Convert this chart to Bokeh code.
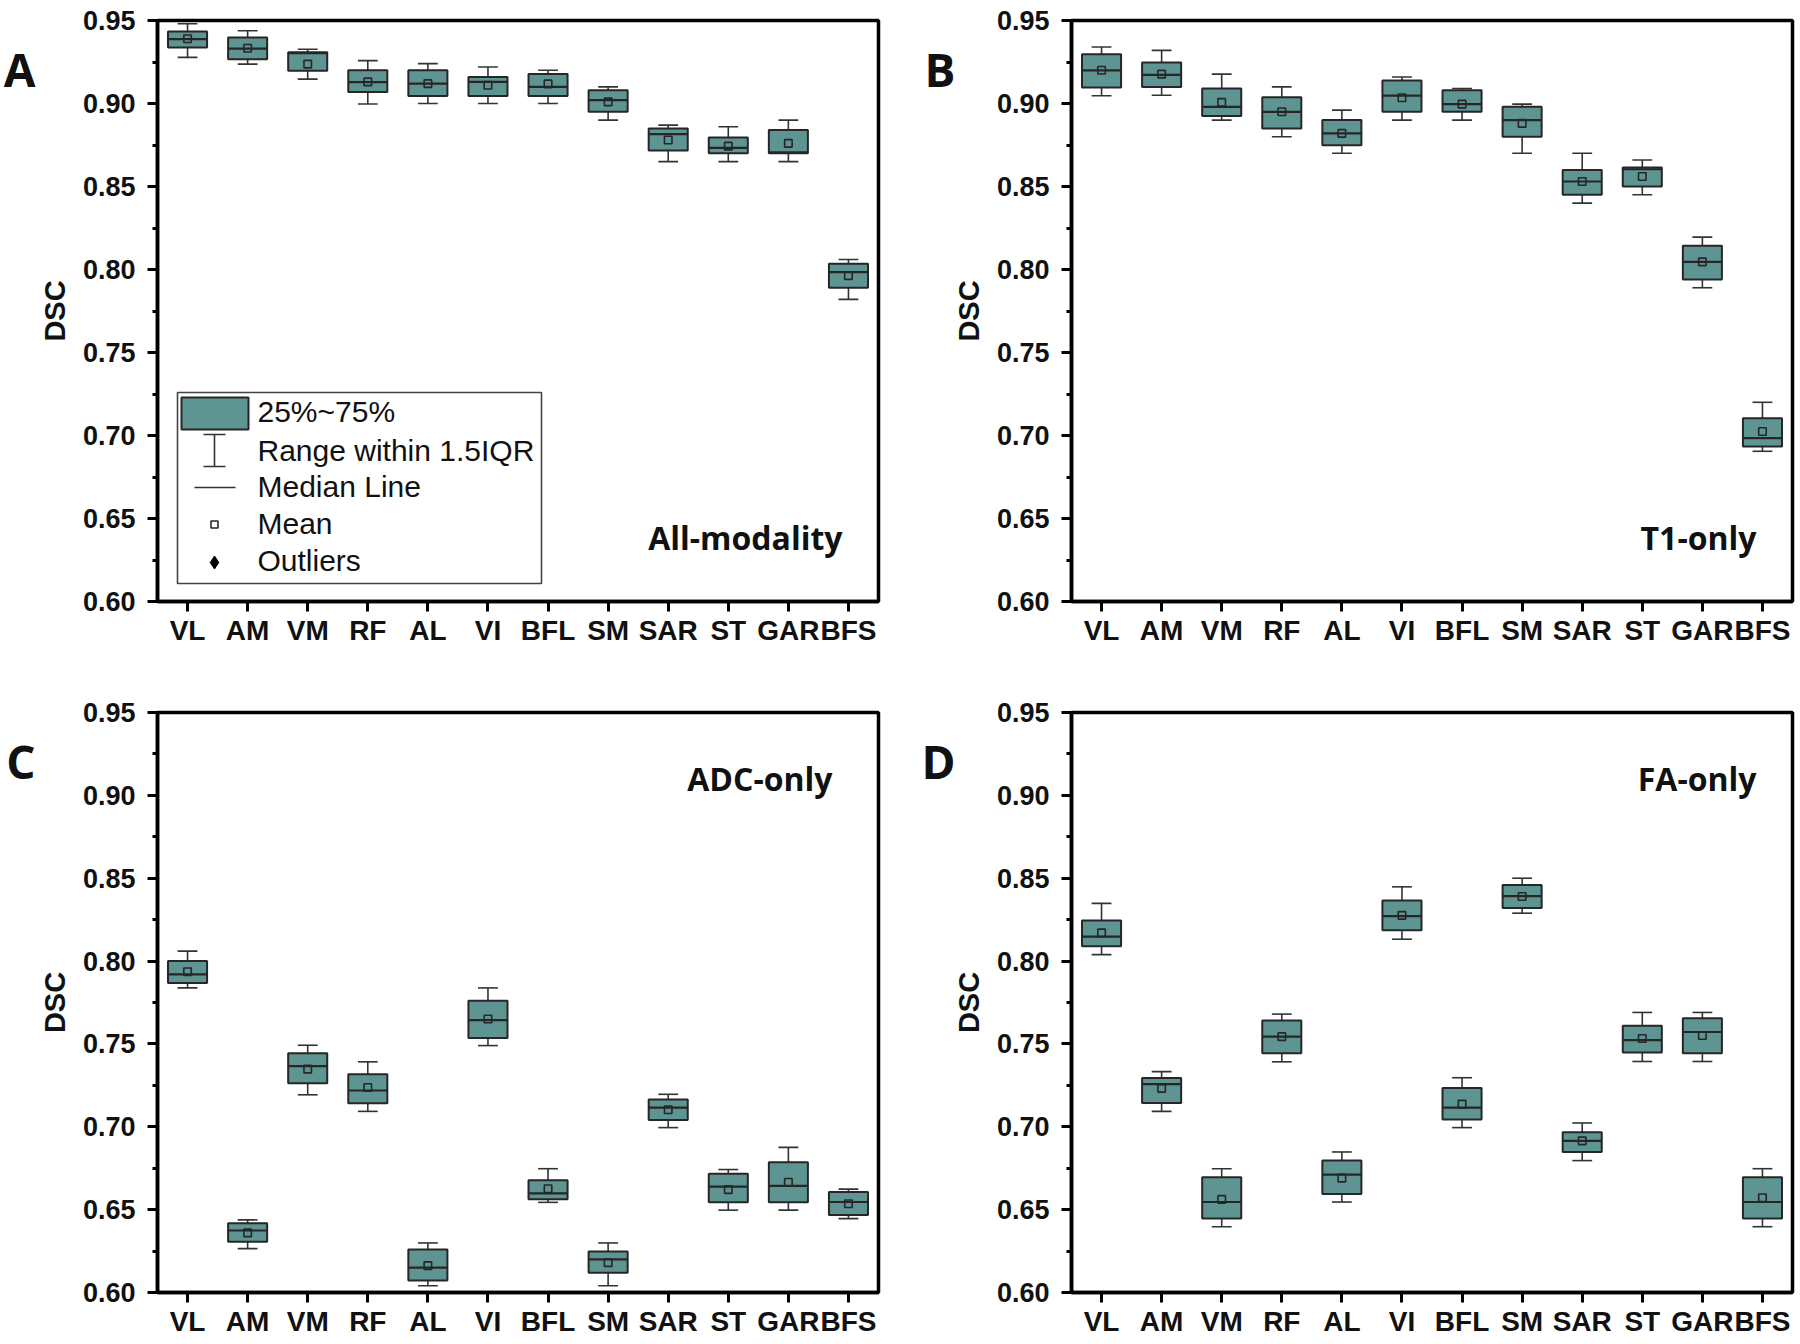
import numpy as np
from bokeh.plotting import figure
from bokeh.layouts import column, row
from bokeh.models import FixedTicker, Range1d, Label, NumeralTickFormatter, LinearAxis
from bokeh.core.properties import value
from bokeh.embed import file_html
from bokeh.resources import INLINE

muscles = ["VL", "AM", "VM", "RF", "AL", "VI", "BFL", "SM", "SAR", "ST", "GAR", "BFS"]
y_ticks = [0.60, 0.65, 0.70, 0.75, 0.80, 0.85, 0.90, 0.95]
y_minor = [0.625, 0.675, 0.725, 0.775, 0.825, 0.875, 0.925]
y_lo, y_hi = 0.60, 0.95

# ---- Panel A: All-modality ----
A_whi  = [0.948, 0.9438, 0.9327, 0.9258, 0.924, 0.922, 0.920, 0.910, 0.887, 0.886, 0.890, 0.806]
A_q3   = [0.9434, 0.9398, 0.9308, 0.920, 0.920, 0.916, 0.9177, 0.908, 0.885, 0.8795, 0.884, 0.8035]
A_med  = [0.9388, 0.933, 0.9303, 0.9129, 0.912, 0.913, 0.910, 0.902, 0.8815, 0.8733, 0.8705, 0.7984]
A_mean = [0.939, 0.9333, 0.9237, 0.913, 0.912, 0.911, 0.9118, 0.901, 0.878, 0.8743, 0.876, 0.7963]
A_q1   = [0.9338, 0.9267, 0.9198, 0.9069, 0.9045, 0.9045, 0.9045, 0.895, 0.8717, 0.870, 0.870, 0.789]
A_wlo  = [0.9278, 0.9237, 0.9147, 0.8997, 0.900, 0.900, 0.900, 0.890, 0.865, 0.865, 0.865, 0.782]

# ---- Panel B: T1-only ----
B_whi  = [0.934, 0.932, 0.9177, 0.910, 0.896, 0.916, 0.909, 0.8996, 0.870, 0.866, 0.8195, 0.720]
B_q3   = [0.9297, 0.9247, 0.909, 0.9038, 0.890, 0.9138, 0.908, 0.898, 0.860, 0.8614, 0.8143, 0.7104]
B_med  = [0.920, 0.9172, 0.898, 0.895, 0.882, 0.9048, 0.8996, 0.890, 0.853, 0.8604, 0.8046, 0.6984]
B_mean = [0.920, 0.9177, 0.9007, 0.895, 0.882, 0.9035, 0.8996, 0.888, 0.853, 0.856, 0.8046, 0.7024]
B_q1   = [0.9097, 0.910, 0.8924, 0.885, 0.8748, 0.895, 0.895, 0.880, 0.845, 0.850, 0.794, 0.6934]
B_wlo  = [0.9047, 0.905, 0.890, 0.880, 0.870, 0.890, 0.890, 0.870, 0.840, 0.845, 0.789, 0.6905]

# ---- Panel C: ADC-only ----
C_whi  = [0.806, 0.6438, 0.7492, 0.7392, 0.6299, 0.7838, 0.6747, 0.6299, 0.7196, 0.6742, 0.6876, 0.6624]
C_q3   = [0.800, 0.6418, 0.7443, 0.7317, 0.626, 0.776, 0.6678, 0.6247, 0.7165, 0.6716, 0.6786, 0.6606]
C_med  = [0.792, 0.6374, 0.7366, 0.7219, 0.615, 0.7644, 0.6598, 0.620, 0.7116, 0.6639, 0.6644, 0.6546]
C_mean = [0.7936, 0.636, 0.7348, 0.7237, 0.6162, 0.765, 0.6626, 0.618, 0.7103, 0.6621, 0.6665, 0.6536]
C_q1   = [0.7868, 0.6307, 0.7263, 0.7142, 0.6072, 0.7536, 0.6562, 0.6119, 0.7041, 0.6544, 0.6544, 0.6467]
C_wlo  = [0.7838, 0.6265, 0.7193, 0.7093, 0.6041, 0.749, 0.6544, 0.6041, 0.6995, 0.6497, 0.6497, 0.6446]

# ---- Panel D: FA-only ----
D_whi  = [0.8348, 0.7333, 0.6747, 0.768, 0.6848, 0.8448, 0.7296, 0.850, 0.7023, 0.769, 0.769, 0.6747]
D_q3   = [0.8245, 0.7294, 0.6696, 0.7642, 0.6796, 0.8366, 0.7234, 0.8459, 0.6967, 0.761, 0.7655, 0.6696]
D_med  = [0.8147, 0.7258, 0.6546, 0.7544, 0.6711, 0.8271, 0.7116, 0.8392, 0.6915, 0.7523, 0.7572, 0.6546]
D_mean = [0.817, 0.7232, 0.6562, 0.7544, 0.669, 0.8276, 0.7137, 0.839, 0.6915, 0.7533, 0.7551, 0.6572]
D_q1   = [0.809, 0.7144, 0.6446, 0.7443, 0.6595, 0.8186, 0.7044, 0.832, 0.6848, 0.7448, 0.7443, 0.6446]
D_wlo  = [0.8039, 0.7093, 0.6397, 0.7392, 0.6546, 0.8132, 0.6995, 0.8289, 0.6796, 0.7394, 0.7394, 0.6397]

legend_labels = ["25%~75%", "Range within 1.5IQR", "Median Line", "Mean", "Outliers"]

TEAL = "#5e9492"
DARK = "#262626"
WHISK = "#333333"
BOX_W = 0.65
CAP_W = 0.33


def make_panel(letter, title, whi, q3, med, mean, q1, wlo, col, rowi, title_dx, legend=False):
    W, H = 900, 672
    bl, br = (157, 22) if col == 0 else (171, 8)
    bt, bb = (20, 71) if rowi == 0 else (40, 52)
    fw = W - bl - br
    fh = H - bt - bb
    n = len(muscles)

    def dx(off):
        return -0.5 + off / fw * n

    def dy(off):
        return y_hi - off / fh * (y_hi - y_lo)

    p = figure(width=W, height=H, x_range=Range1d(-0.5, n - 0.5), y_range=Range1d(y_lo, y_hi),
               output_backend="svg", toolbar_location=None,
               min_border_left=bl, min_border_right=br, min_border_top=bt, min_border_bottom=bb)
    p.background_fill_color = "white"
    p.border_fill_color = "white"
    p.xgrid.visible = False
    p.ygrid.visible = False
    p.outline_line_color = "black"
    p.outline_line_width = 3.5

    xs = np.arange(n)
    # whiskers
    p.segment(x0=xs, x1=xs, y0=q3, y1=whi, line_color=WHISK, line_width=1.6)
    p.segment(x0=xs, x1=xs, y0=q1, y1=wlo, line_color=WHISK, line_width=1.6)
    p.segment(x0=xs - CAP_W / 2, x1=xs + CAP_W / 2, y0=whi, y1=whi, line_color=WHISK, line_width=1.6)
    p.segment(x0=xs - CAP_W / 2, x1=xs + CAP_W / 2, y0=wlo, y1=wlo, line_color=WHISK, line_width=1.6)
    # boxes
    p.vbar(x=xs, width=BOX_W, top=q3, bottom=q1, fill_color=TEAL, line_color=DARK, line_width=2)
    p.segment(x0=xs - BOX_W / 2, x1=xs + BOX_W / 2, y0=med, y1=med, line_color=DARK, line_width=2.2)
    p.scatter(x=xs, y=mean, marker="square", size=7.5, fill_alpha=0, line_color=DARK, line_width=1.6)

    # axes
    for ax in (p.xaxis[0], p.yaxis[0]):
        ax.axis_line_width = 3.5
        ax.axis_line_color = "black"
        ax.major_tick_line_width = 3
        ax.major_tick_line_color = "black"
        ax.major_tick_out = 10
        ax.major_tick_in = 0
        ax.major_label_text_font = "Liberation Sans"
        ax.major_label_text_font_style = "bold"
        ax.major_label_text_color = "#111111"
    p.yaxis.ticker = FixedTicker(ticks=y_ticks, minor_ticks=y_minor)
    p.yaxis.formatter = NumeralTickFormatter(format="0.00")
    p.yaxis.minor_tick_out = 5
    p.yaxis.minor_tick_in = 0
    p.yaxis.minor_tick_line_width = 3
    p.yaxis.minor_tick_line_color = "black"
    p.yaxis.major_label_text_font_size = "27px"
    p.yaxis.major_label_standoff = 12
    p.yaxis.axis_label = "DSC"
    p.yaxis.axis_label_text_font = "Liberation Sans"
    p.yaxis.axis_label_text_font_style = "bold"
    p.yaxis.axis_label_text_font_size = "29px"
    p.yaxis.axis_label_standoff = 9
    p.yaxis.axis_label_text_color = "#111111"

    p.xaxis.ticker = FixedTicker(ticks=list(range(n)))
    p.xaxis.major_label_overrides = {i: m for i, m in enumerate(muscles)}
    p.xaxis.minor_tick_line_color = None
    p.xaxis.major_label_text_font_size = "28px"
    p.xaxis.major_label_standoff = 3

    # panel letter, drawn as the single label of an outer, line-less axis
    y_letter = dy(48)
    lax = LinearAxis(ticker=FixedTicker(ticks=[y_letter], minor_ticks=[]),
                     major_label_overrides={y_letter: letter})
    lax.axis_line_color = None
    lax.major_tick_line_color = None
    lax.minor_tick_line_color = None
    lax.major_tick_out = 0
    lax.major_tick_in = 0
    lax.major_label_standoff = 0 if col == 0 else -6
    lax.major_label_text_font = "Open Sans"
    lax.major_label_text_font_style = "bold"
    lax.major_label_text_font_size = "46px"
    lax.major_label_text_color = "#111111"
    p.add_layout(lax, "left")

    # panel title
    ty = 517 if rowi == 0 else 66
    p.add_layout(Label(x=dx(fw - title_dx), y=dy(ty), text=title, text_align="right",
                       text_baseline="alphabetic", text_font="Open Sans", text_font_style="bold",
                       text_font_size="32px", text_color="#111111"))

    if legend:
        p.quad(left=[dx(20)], right=[dx(384)], top=[dy(372)], bottom=[dy(563)],
               fill_color="white", line_color="#444444", line_width=1.6)
        p.quad(left=[dx(24)], right=[dx(91)], top=[dy(377)], bottom=[dy(409)],
               fill_color=TEAL, line_color=DARK, line_width=2)
        p.segment(x0=[dx(57)], x1=[dx(57)], y0=[dy(414)], y1=[dy(446)], line_color=WHISK, line_width=1.6)
        p.segment(x0=[dx(46), dx(46)], x1=[dx(68), dx(68)], y0=[dy(414), dy(446)], y1=[dy(414), dy(446)],
                  line_color=WHISK, line_width=1.6)
        p.segment(x0=[dx(37)], x1=[dx(78)], y0=[dy(467)], y1=[dy(467)], line_color=WHISK, line_width=1.6)
        p.scatter(x=[dx(57)], y=[dy(504)], marker="square", size=7, fill_color="white",
                  line_color=DARK, line_width=1.6)
        p.scatter(x=[dx(57)], y=[dy(542)], marker="diamond", size=13, fill_color="black",
                  line_color="black")
        baselines = [391, 430, 466, 503, 540]
        p.text(x=[dx(100)] * len(legend_labels), y=[dy(b) for b in baselines], text=legend_labels,
               text_font=value("Liberation Sans"), text_font_size="30px", text_baseline="alphabetic",
               text_align="left", text_color="#111111")
    return p


pA = make_panel("A", "All-modality", A_whi, A_q3, A_med, A_mean, A_q1, A_wlo, 0, 0, 36, legend=True)
pB = make_panel("B", "T1-only", B_whi, B_q3, B_med, B_mean, B_q1, B_wlo, 1, 0, 36)
pC = make_panel("C", "ADC-only", C_whi, C_q3, C_med, C_mean, C_q1, C_wlo, 0, 1, 46)
pD = make_panel("D", "FA-only", D_whi, D_q3, D_med, D_mean, D_q1, D_wlo, 1, 1, 36)

layout = column(row(pA, pB), row(pC, pD))
open("out.html", "w").write(file_html(layout, INLINE))
